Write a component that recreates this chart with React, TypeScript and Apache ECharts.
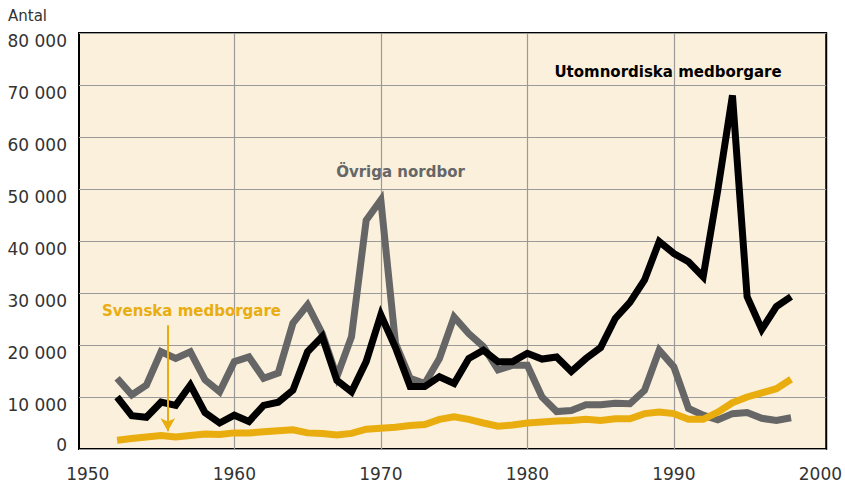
import React, { useEffect, useRef } from 'react';
import * as echarts from 'echarts';

const years: number[] = [];
for (let y = 1952; y <= 1998; y++) years.push(y);

const utomnordiska = [
  10000, 6400, 6100, 9000, 8400, 12300, 7000, 5000, 6500, 5300,
  8400, 9000, 11300, 18700, 21600, 13200, 11000, 16800, 25800, 19500,
  12000, 12000, 13900, 12600, 17400, 19000, 16800, 16800, 18400, 17300,
  17700, 14900, 17400, 19500, 25100, 28200, 32500, 39900, 37600, 36000,
  33100, 49800, 68000, 29300, 23000, 27400, 29300,
];

const ovrigaNordbor = [
  13600, 10400, 12300, 18700, 17400, 18700, 13300, 11000, 16800, 17700,
  13600, 14600, 24200, 27700, 22200, 13900, 21600, 44000, 47900, 20300,
  13600, 12600, 17400, 25400, 22200, 19700, 15200, 16100, 16100, 10000,
  7200, 7400, 8500, 8500, 8800, 8700, 11300, 19000, 15800, 7800,
  6500, 5600, 6800, 7000, 5900, 5500, 6000,
];

const svenska = [
  1700, 2000, 2300, 2600, 2300, 2600, 2900, 2800, 3100, 3100,
  3300, 3500, 3700, 3100, 3000, 2700, 3000, 3800, 4000, 4200,
  4500, 4700, 5700, 6200, 5700, 5000, 4400, 4600, 5000, 5200,
  5400, 5500, 5700, 5500, 5800, 5800, 6800, 7100, 6800, 5700,
  5700, 7100, 8900, 10000, 10800, 11600, 13400,
];

const xLabelYears = [1950, 1960, 1970, 1980, 1990, 2000];
const xGridYears = [1960, 1970, 1980, 1990];

const BLACK = '#000000';
const GRAY = '#666666';
const YELLOW = '#E9AD0F';
const FONT = 'DejaVu Sans';

// arrow annotation (data coords)
const arrowYear = 1955.46;
const arrowTop = 23800;
const arrowBottom = 3400;

const pair = (vals: number[]) => years.map((y, i) => [y, vals[i]]);

export default function App() {
  const ref = useRef<HTMLDivElement>(null);
  useEffect(() => {
    document.body.style.margin = '0';
    const chart = echarts.init(ref.current!, null, { renderer: 'svg' });
    const lineStyle = (color: string) => ({ color, width: 7, cap: 'butt', join: 'miter', miterLimit: 10 });
    chart.setOption({
      animation: false,
      backgroundColor: '#ffffff',
      grid: {
        left: 79,
        right: 17,
        top: 33,
        bottom: 34,
        show: true,
        backgroundColor: '#FAF0DC',
        borderColor: '#000',
        borderWidth: 2,
      },
      xAxis: {
        type: 'value',
        min: 1949.4,
        max: 2000.4,
        axisLine: { show: false },
        axisTick: { show: false, customValues: xGridYears },
        axisLabel: {
          customValues: xLabelYears,
          fontFamily: FONT,
          fontSize: 17,
          color: '#333',
          margin: 16,
          formatter: (v: number) => String(v),
        },
        splitLine: { show: true, lineStyle: { color: '#9a9a9a', width: 1.2 } },
      },
      yAxis: {
        type: 'value',
        min: 0,
        max: 80000,
        interval: 10000,
        axisLine: { show: false },
        axisTick: { show: false },
        axisLabel: {
          margin: 12,
          formatter: (v: number) => (v === 0 ? '{z|0}' : '{n|' + v / 1000 + ' 000}'),
          rich: {
            n: { fontFamily: FONT, fontSize: 17, color: '#333', padding: [15, 0, 0, 0] },
            z: { fontFamily: FONT, fontSize: 17, color: '#333', padding: [0, 0, 8, 0] },
          },
        },
        splitLine: { show: true, lineStyle: { color: '#9a9a9a', width: 1.2 } },
      },
      series: [
        {
          name: 'Övriga nordbor',
          type: 'line',
          data: pair(ovrigaNordbor),
          symbol: 'none',
          lineStyle: lineStyle(GRAY),
          z: 2,
        },
        {
          name: 'Svenska medborgare',
          type: 'line',
          data: pair(svenska),
          symbol: 'none',
          lineStyle: lineStyle(YELLOW),
          z: 3,
          markLine: {
            silent: true,
            symbol: ['none', 'arrow'],
            symbolSize: [11, 13],
            lineStyle: { color: YELLOW, width: 2, type: 'solid' },
            label: { show: false },
            data: [[{ coord: [arrowYear, arrowTop] }, { coord: [arrowYear, arrowBottom] }]],
          },
        },
        {
          name: 'Utomnordiska medborgare',
          type: 'line',
          data: pair(utomnordiska),
          symbol: 'none',
          lineStyle: lineStyle(BLACK),
          z: 4,
        },
      ],
      graphic: [
        {
          type: 'text',
          left: 8,
          top: 8,
          style: { text: 'Antal', fontFamily: FONT, fontSize: 15, fill: '#333' },
        },
        {
          type: 'text',
          x: 668,
          y: 71.5,
          style: {
            text: 'Utomnordiska medborgare',
            fontFamily: FONT,
            fontWeight: 'bold',
            fontSize: 15,
            fill: BLACK,
            align: 'center',
            verticalAlign: 'middle',
          },
          z: 10,
        },
        {
          type: 'text',
          x: 400.5,
          y: 172,
          style: {
            text: 'Övriga nordbor',
            fontFamily: FONT,
            fontWeight: 'bold',
            fontSize: 15,
            fill: GRAY,
            align: 'center',
            verticalAlign: 'middle',
          },
          z: 10,
        },
        {
          type: 'text',
          x: 191.5,
          y: 311,
          style: {
            text: 'Svenska medborgare',
            fontFamily: FONT,
            fontWeight: 'bold',
            fontSize: 15,
            fill: YELLOW,
            align: 'center',
            verticalAlign: 'middle',
          },
          z: 10,
        },
      ],
    });
    return () => chart.dispose();
  }, []);
  return <div ref={ref} style={{ width: 845, height: 483 }} />;
}
